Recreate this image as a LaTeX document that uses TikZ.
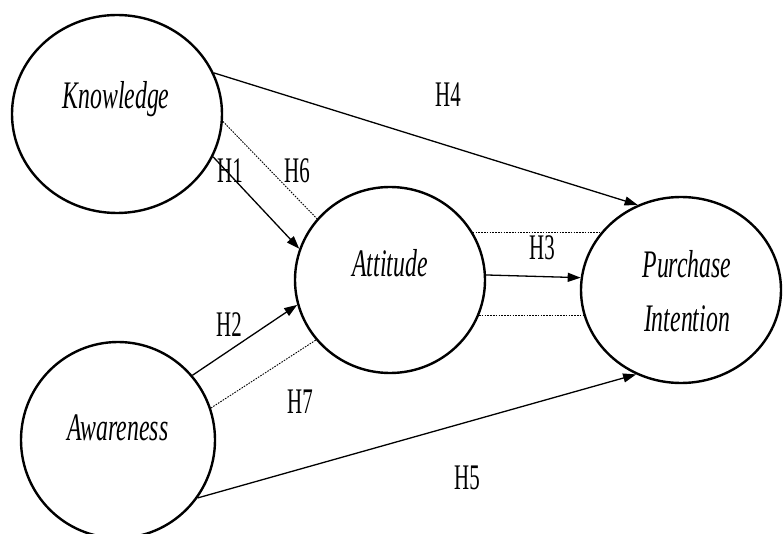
\documentclass[tikz,border=0pt]{standalone}
\usepackage{fontspec}
\setmainfont{Liberation Serif}
\usetikzlibrary{shapes.geometric,arrows.meta}
\begin{document}
\begin{tikzpicture}[x=1pt,y=-1pt,
  construct/.style={draw, ellipse, line width=2.4pt, inner sep=0pt},
  ctext/.style={anchor=base, inner sep=0pt, font=\fontsize{39}{44}\selectfont\itshape},
  hlabel/.style={anchor=base, inner sep=0pt, font=\fontsize{36}{40}\selectfont},
  path/.style={line width=1.3pt, -{Triangle[length=13pt,width=9pt]}},
  plain/.style={line width=1.3pt},
  dotline/.style={line width=0.9pt, dash pattern=on 1.6pt off 1.2pt}]
\useasboundingbox (0,0) rectangle (784,534);
\clip (0,0) rectangle (784,534);
% constructs
\node[construct, minimum width=210pt, minimum height=198pt] (K) at (117,114) {};
\node[construct, minimum width=190pt, minimum height=186pt] (A) at (390,280) {};
\node[construct, minimum width=200pt, minimum height=186pt] (P) at (681,290) {};
\node[construct, minimum width=194pt, minimum height=196pt] (W) at (118,440) {};
% construct texts
\node[ctext] (tK) at (116,109) {\scalebox{0.61}[1]{Knowledge}};
\node[ctext] (tA) at (390,277) {\scalebox{0.61}[1]{Attitude}};
\node[ctext] (tP1) at (687,278) {\scalebox{0.61}[1]{Purchase}};
\node[ctext] (tP2) at (687,332) {\scalebox{0.61}[1]{Intention}};
\node[ctext] (tW) at (118,440) {\scalebox{0.61}[1]{Awareness}};
% connectors
\draw[path] (K.23) -- (P.117);
\draw[path] (K.-24) -- (A.161);
\draw[dotline] (K.-4) -- (A.140);
\draw[path] (W.41) -- (A.-165);
\draw[dotline] (W.19) -- (A.-141);
\draw[path] (W.-36) -- (P.-118);
\draw[path] (A.3) -- (P.173);
\draw[dotline] (A.30) -- (A.30 -| P.144);
\draw[dotline] (A.-22) -- (A.-22 -| P.-165);
% hypothesis labels
\node[hlabel] (H4) at (448,107) {\scalebox{0.58}[1]{H4}};
\node[hlabel] (H1) at (230,183) {\scalebox{0.58}[1]{H1}};
\node[hlabel] (H6) at (297,183) {\scalebox{0.58}[1]{H6}};
\node[hlabel] (H2) at (229,337) {\scalebox{0.58}[1]{H2}};
\node[hlabel] (H7) at (300,413) {\scalebox{0.58}[1]{H7}};
\node[hlabel] (H5) at (467,489) {\scalebox{0.58}[1]{H5}};
\node[hlabel] (H3) at (542,260) {\scalebox{0.58}[1]{H3}};
\end{tikzpicture}
\end{document}
